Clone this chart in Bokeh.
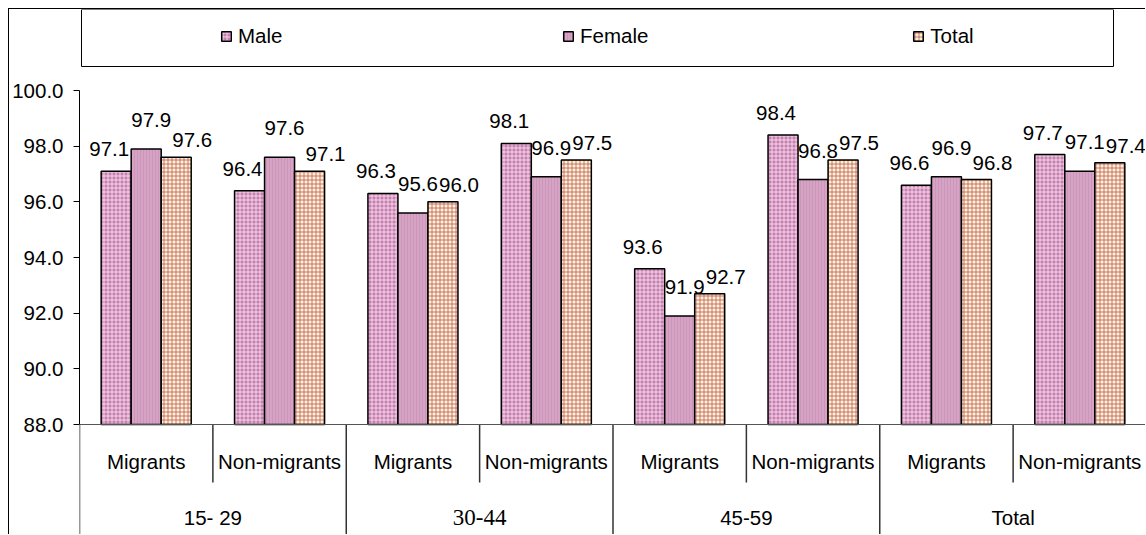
from bokeh.plotting import figure
from bokeh.models import (FactorRange, Range1d, ColumnDataSource, FixedTicker,
                          NumeralTickFormatter, Span, Legend, LegendItem, BoxAnnotation)
from bokeh.transform import dodge
from bokeh.core.properties import value
from bokeh.embed import file_html
from bokeh.resources import INLINE

# ---------------- data ----------------
groups = ["15- 29", "30-44", "45-59", "Total"]
subgroups = ["Migrants", "Non-migrants"]
series_names = ["Male", "Female", "Total"]
male = [97.1, 96.4, 96.3, 98.1, 93.6, 98.4, 96.6, 97.7]
female = [97.9, 97.6, 95.6, 96.9, 91.9, 96.8, 96.9, 97.1]
total = [97.6, 97.1, 96.0, 97.5, 92.7, 97.5, 96.8, 97.4]
y_ticks = [88, 90, 92, 94, 96, 98, 100]
y_floor = 88
y_ceiling = 100

# ---------------- layout ----------------
W, H = 1137, 526            # canvas size (after 8px offset + 1px border left/top)
FRAME_LEFT = 70
PPU = 334 / (y_ceiling - y_floor)   # pixels per y unit
y_top = y_ceiling + 81 / PPU
y_bottom = y_top - H / PPU

FONT = "Liberation Sans"
SERIF = "Liberation Serif"
FS = "20.5px"

factors = [(g, s) for g in groups for s in subgroups]

p = figure(width=W, height=H, output_backend="svg", toolbar_location=None,
           x_range=FactorRange(*factors, factor_padding=0, group_padding=0,
                               subgroup_padding=0, range_padding=0),
           y_range=Range1d(y_bottom, y_top),
           x_axis_location=None, min_border_left=FRAME_LEFT, min_border_right=0,
           min_border_top=0, min_border_bottom=0)
p.styles = {"margin-left": "8px", "margin-top": "8px",
            "border-left": "1px solid black", "border-top": "1px solid black"}
p.outline_line_color = None
p.xgrid.visible = False
p.ygrid.visible = False
p.background_fill_color = "white"
p.border_fill_color = "white"

ax = p.yaxis[0]
ax.ticker = FixedTicker(ticks=y_ticks)
ax.formatter = NumeralTickFormatter(format="0.0")
ax.bounds = (y_floor, y_ceiling)
ax.major_tick_out = 6
ax.major_tick_in = 0
ax.minor_tick_line_color = None
ax.axis_line_color = "black"
ax.major_tick_line_color = "black"
ax.major_label_standoff = 10
ax.major_label_text_font = FONT
ax.major_label_text_font_size = FS
ax.major_label_text_color = "black"

src = ColumnDataSource(dict(
    x=factors, male=male, female=female, total=total,
    male_lbl=[f"{v:.1f}" for v in male],
    female_lbl=[f"{v:.1f}" for v in female],
    total_lbl=[f"{v:.1f}" for v in total],
))

BW = 0.225
styles = {
    "male": dict(fill_color="#c97db0", hatch_pattern="+", hatch_color="white",
                 hatch_scale=4, hatch_weight=1, hatch_alpha=0.65),
    "female": dict(fill_color="#d6a3c5", hatch_pattern="|", hatch_color="#c58db2",
                   hatch_scale=3, hatch_weight=1, hatch_alpha=0.6),
    "total": dict(fill_color="#fff7b5", hatch_pattern="+", hatch_color="#b03a8a",
                  hatch_scale=4, hatch_weight=1, hatch_alpha=0.7),
}
offsets = {"male": -BW, "female": 0.0, "total": BW}
lbl_dx = {"male": -7, "female": 5, "total": 16}
lbl_dy = {"male": -22, "female": -29, "total": -17}

renderers = {}
for key in ["male", "female", "total"]:
    renderers[key] = p.vbar(x=dodge("x", offsets[key], range=p.x_range), top=key,
                            bottom=y_floor, width=BW, source=src,
                            line_color="black", line_width=1.5, **styles[key])
for key in ["male", "female", "total"]:
    p.text(x=dodge("x", offsets[key], range=p.x_range), y=key, text=key + "_lbl",
           source=src, x_offset=lbl_dx[key], y_offset=lbl_dy[key],
           text_align="center", text_baseline="middle",
           text_font=value(FONT), text_font_size=FS, text_color="black")

# baseline of the category axis
p.add_layout(Span(location=y_floor, dimension="width", line_color="#555555", line_width=1))

# category separators
sep_src = ColumnDataSource(dict(
    x=factors,
    y1=[y_bottom if s == subgroups[0] else y_floor - 58 / PPU for g, s in factors],
))
p.segment(x0=dodge("x", -0.5, range=p.x_range), x1=dodge("x", -0.5, range=p.x_range),
          y0=y_floor, y1="y1", source=sep_src, line_color="#333333", line_width=1.5)

# category labels
sub_src = ColumnDataSource(dict(x=factors, t=[s for g, s in factors]))
p.text(x="x", y=y_floor, text="t", source=sub_src, y_offset=37,
       text_align="center", text_baseline="middle",
       text_font=value(FONT), text_font_size=FS, text_color="black")
grp_src = ColumnDataSource(dict(x=groups, t=groups,
                                f=[SERIF if g == "30-44" else FONT for g in groups],
                                s=["23px" if g == "30-44" else FS for g in groups]))
p.text(x="x", y=y_floor, text="t", source=grp_src, y_offset=93,
       text_align="center", text_baseline="middle",
       text_font="f", text_font_size="s", text_color="black")

# legend box + legend
p.add_layout(BoxAnnotation(left=2, right=1034, top=H, bottom=H - 57,
                           left_units="screen", right_units="screen",
                           top_units="screen", bottom_units="screen",
                           fill_alpha=0, line_color="black", line_width=1, line_alpha=1))
legend = Legend(items=[LegendItem(label=n, renderers=[renderers[k]])
                       for n, k in zip(series_names, ["male", "female", "total"])],
                orientation="horizontal", location=(141, H - 39), padding=0, margin=0,
                spacing=264, label_width=60, glyph_width=12, glyph_height=12,
                label_standoff=6, border_line_color=None, background_fill_alpha=0,
                label_text_font=FONT, label_text_font_size=FS, label_text_color="black")
p.add_layout(legend)

open("out.html", "w").write(file_html(p, INLINE))
